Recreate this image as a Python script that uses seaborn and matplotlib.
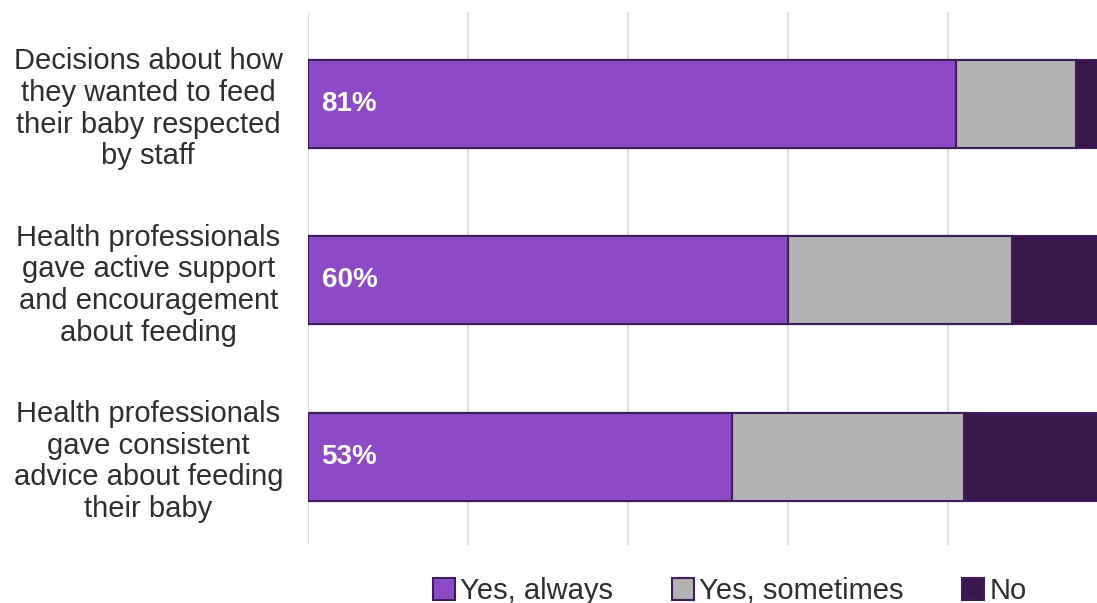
import numpy as np
import pandas as pd
import seaborn as sns
import matplotlib.pyplot as plt
from matplotlib.patches import Patch

categories = ["Decisions about how\nthey wanted to feed\ntheir baby respected\nby staff",
              "Health professionals\ngave active support\nand encouragement\nabout feeding",
              "Health professionals\ngave consistent\nadvice about feeding\ntheir baby"]
yes_always = [81, 60, 53]
yes_sometimes = [15, 28, 29]
no = [4, 12, 18]
series_names = ["Yes, always", "Yes, sometimes", "No"]
colors = ["#8e4ac6", "#b2b2b2", "#3a184f"]
edge = "#3f1d5a"

df = pd.DataFrame({"cat": categories, "always": yes_always,
                   "sometimes": yes_sometimes, "no": no})
df["c1"] = df["always"]
df["c2"] = df["always"] + df["sometimes"]
df["c3"] = df["c2"] + df["no"]

sns.set_style("white")
plt.rcParams['font.family'] = ['Liberation Sans', 'DejaVu Sans']

fig = plt.figure(figsize=(10.97, 6.03), dpi=100)
ax = fig.add_axes([308 / 1097, 1 - 545 / 603, 800 / 1097, 533 / 603])

# stacked: draw cumulative totals, largest first
for col, c in zip(["c3", "c2", "c1"], colors[::-1]):
    sns.barplot(data=df, x=col, y="cat", color=c, orient="h", width=0.5,
                edgecolor=edge, linewidth=1.5, ax=ax, zorder=3, saturation=1)

for i, v in enumerate(yes_always):
    ax.text(1.7, i, f"{v}%", color="white", fontsize=20, fontweight="bold",
            va="center", ha="left", zorder=5)

ax.set_xlim(0, 100)
ax.set_ylim(2.5, -0.52)
ax.set_xticks([0, 20, 40, 60, 80, 100])
ax.set_xticklabels([])
ax.grid(axis="x", color="#e0e0e0", linewidth=1.5, zorder=0)
ax.set_axisbelow(True)
for s in ax.spines.values():
    s.set_visible(False)
ax.set_xlabel("")
ax.set_ylabel("")
ax.tick_params(axis="x", length=0)
ax.tick_params(axis="y", length=0, pad=115)
for lab in ax.get_yticklabels():
    lab.set_ha("center")
    lab.set_multialignment("center")
    lab.set_fontsize(21)
    lab.set_color("#2e2e2e")
    lab.set_linespacing(1.17)

handles = [Patch(facecolor=c, edgecolor=edge, linewidth=1.5) for c in colors]
fig.legend(handles, series_names, loc="center", bbox_to_anchor=(730 / 1097, 1 - 591 / 603),
           ncol=3, frameon=False, fontsize=21, handlelength=0.75, handleheight=0.75,
           handletextpad=0.2, columnspacing=2.0, labelcolor="#2e2e2e")

fig.savefig("out.png", dpi=100)
